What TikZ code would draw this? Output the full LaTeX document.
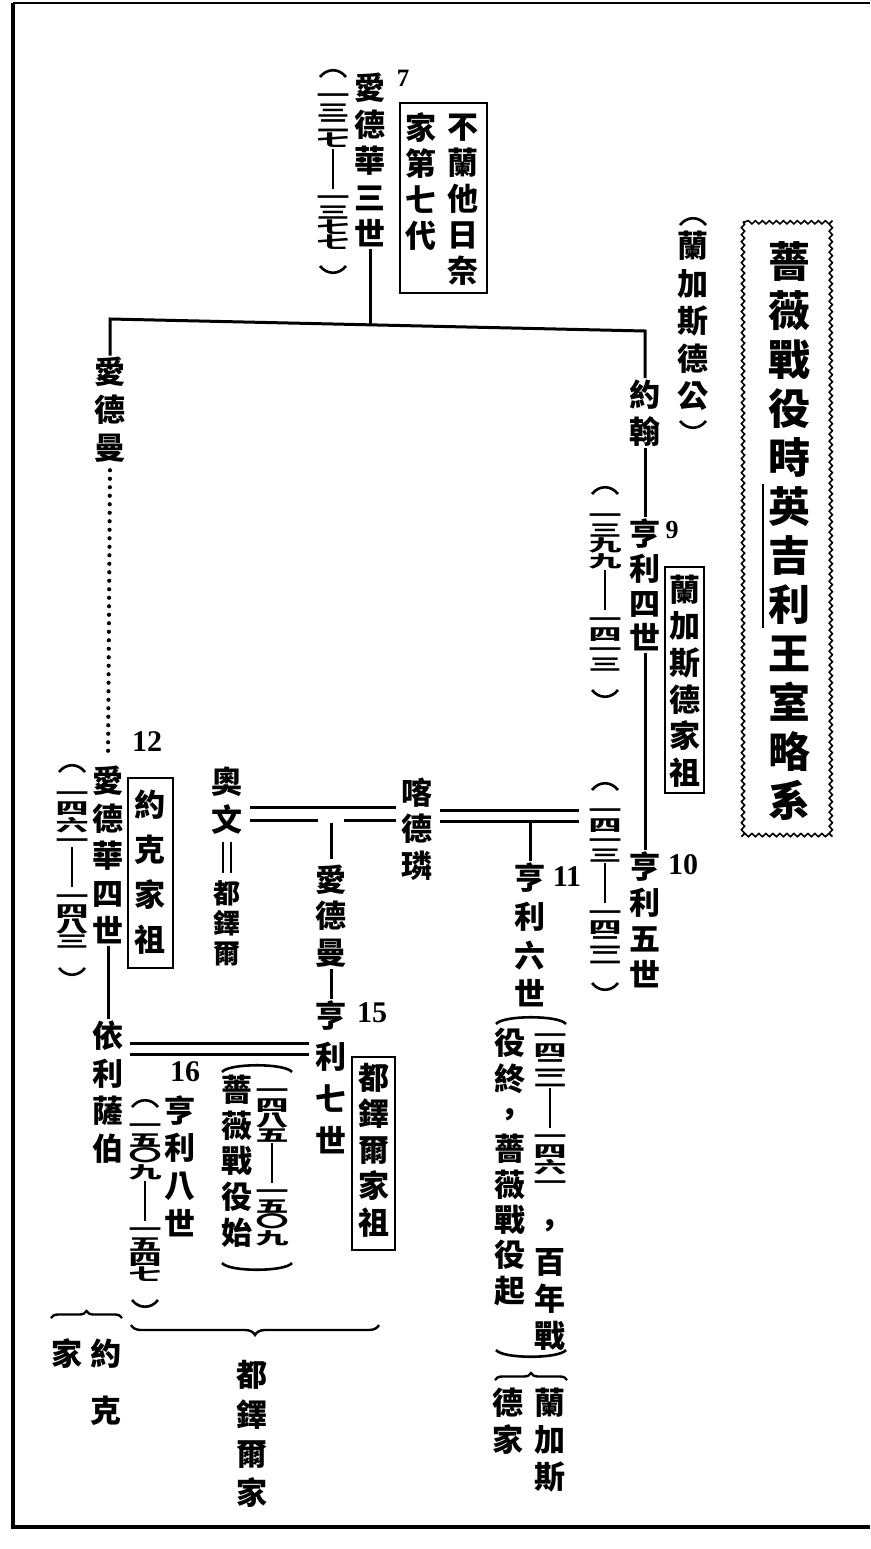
\documentclass[tikz,border=0pt]{standalone}
\usepackage{fontspec}
\usepackage{graphicx}
\newfontfamily\cjk{Noto Sans CJK TC}
\newfontfamily\numf{Liberation Serif}
\usetikzlibrary{calc,decorations.pathmorphing,decorations.pathreplacing}

\newcommand\dg[1]{\scalebox{1}[0.5]{#1}}
\newcommand\ydash{\rule{2.2pt}{40pt}}
\newcommand\vparen[4]{% x, top, bottom, half width
  \draw[parc] ({#1-#4},{#2+7}) .. controls ({#1-#4+7},{#2-2}) and ({#1+#4-7},{#2-2}) .. ({#1+#4},{#2+7});
  \draw[parc] ({#1-#4},{#3-7}) .. controls ({#1-#4+7},{#3+2}) and ({#1+#4-7},{#3+2}) .. ({#1+#4},{#3-7});}

\tikzset{
  rosetree/.style={x=1pt,y=-1pt,line width=3pt},
  vcol/.style={font=\cjk\bfseries\fontsize{31}{#1}\selectfont,align=center,inner sep=0pt},
  vcol/.default=37,
  tcol/.style={font=\cjk\bfseries\fontsize{27}{30}\selectfont,align=center,inner sep=0pt},
  vtitle/.style={font=\cjk\bfseries\fontsize{42}{49}\selectfont,align=center,inner sep=0pt},
  yrs/.style={font=\cjk\bfseries\fontsize{33}{15}\selectfont,align=center,inner sep=0pt},
  gen/.style={font=\numf\bfseries\fontsize{#1}{#1}\selectfont,inner sep=0pt},
  gen/.default=30,
  famebox/.style={line width=2.2pt},
  wed/.style={line width=3pt},
  parc/.style={line width=2.6pt},
  dotline/.style={line width=4.2pt,line cap=round,dash pattern=on 0pt off 8.5pt},
  brc/.style={line width=2.4pt,decorate,decoration={brace,amplitude=#1}},
}

\begin{document}
\begin{tikzpicture}[rosetree]
  \useasboundingbox (0,0) rectangle (870,1549);
  % frame
  \draw[line width=3.5pt] (13,3) -- (13,1527) -- (870,1527);
  \draw[line width=1.8pt] (13,3) -- (870,3);

  % title
  \draw[line width=1.6pt,decorate,decoration={snake,amplitude=1.6pt,segment length=7pt}] (743,222) rectangle (834,836);
  \node[vtitle] (title) at (789,531) {薔\\薇\\戰\\役\\時\\英\\吉\\利\\王\\室\\略\\系};
  \draw[line width=2pt] (763,484) -- (763,628);

  % Edward III
  \node[vcol=36.5] (ed3) at (370,160) {愛\\德\\華\\三\\世};
  \node[gen=25] (n7) at (403,78) {7};
  \node[yrs] (d7) at (333,172) {\dg{一}\\ \dg{三}\\ \dg{二}\\ \dg{七}\\ \ydash\\ \dg{一}\\ \dg{三}\\ \dg{七}\\ \dg{七}};
  \vparen{333}{70}{273}{13}
  \node[vcol=36] (b7r) at (463,200) {不\\蘭\\他\\日\\奈};
  \node[vcol=36] (b7l) at (421,182) {家\\第\\七\\代};
  \draw[famebox] (400,103) rectangle (487,293);

  \coordinate (jl) at (110,319);
  \coordinate (jr) at (645,331);
  \coordinate (jm) at (370,325);
  \draw (ed3.south) -- (jm);

  % York line
  \node[vcol=38] (edm1) at (110,410) {愛\\德\\曼};
  \node[vcol=37.5] (ed4) at (108,855) {愛\\德\\華\\四\\世};
  \node[gen] (n12) at (147,742) {12};
  \node[yrs] (d12) at (72,870) {\dg{一}\\ \dg{四}\\ \dg{六}\\ \dg{一}\\ \ydash\\ \dg{一}\\ \dg{四}\\ \dg{八}\\ \dg{三}};
  \vparen{72}{765}{975}{13}
  \node[vcol=45] (b12) at (150,872) {約\\克\\家\\祖};
  \draw[famebox] (128,778) rectangle (173,968);
  \node[vcol=37.7] (eliz) at (108,1092) {依\\利\\薩\\伯};

  % Lancaster line
  \node[vcol=37] (john) at (645,413) {約\\翰};
  \node[vcol=37.5] (duke) at (693,321) {蘭\\加\\斯\\德\\公};
  \vparen{693}{218}{428}{13}
  \node[vcol=34.7] (h4) at (645,585) {亨\\利\\四\\世};
  \node[gen=26] (n9) at (672,530) {9};
  \node[yrs] (d9) at (605,592) {\dg{一}\\ \dg{三}\\ \dg{九}\\ \dg{九}\\ \ydash\\ \dg{一}\\ \dg{四}\\ \dg{一}\\ \dg{三}};
  \vparen{605}{487}{697}{13}
  \node[vcol=36.6] (b9) at (685,681) {蘭\\加\\斯\\德\\家\\祖};
  \draw[famebox] (665,567) rectangle (704,793);
  \node[vcol=36] (h5) at (645,920) {亨\\利\\五\\世};
  \node[gen] (n10) at (683,865) {10};
  \node[yrs] (d10) at (605,886) {\dg{一}\\ \dg{四}\\ \dg{一}\\ \dg{三}\\ \ydash\\ \dg{一}\\ \dg{四}\\ \dg{二}\\ \dg{二}};
  \vparen{605}{783}{990}{13}

  \draw (edm1.north) -- (jl) -- (jr) -- (john.north);
  \draw[dotline,shorten <=6pt,shorten >=10pt] (edm1.south) -- (ed4.north);
  \draw (ed4.south) -- (eliz.north);
  \draw (john.south) -- (h4.north);
  \draw (h4.south) -- (h5.north);

  % Catherine, Owen Tudor, Henry VI
  \node[vcol=36.5] (cath) at (417,829) {喀\\德\\璘};
  \node[vcol=38] (owen) at (227,801) {奧\\文};
  \node[tcol] (tud) at (227,923) {都\\鐸\\爾};
  \draw[line width=2pt] ($(owen.south)+(-4,6)$) -- ($(tud.north)+(-4,-6)$);
  \draw[line width=2pt] ($(owen.south)+(4,6)$) -- ($(tud.north)+(4,-6)$);
  \node[vcol=36.5] (edm2) at (331,916) {愛\\德\\曼};
  \node[vcol=38.7] (h6) at (530,935) {亨\\利\\六\\世};
  \node[gen] (n11) at (567,877) {11};

  \coordinate (mA) at (0,807);
  \coordinate (mB) at (0,820);
  \coordinate (mA2) at (0,810);
  \coordinate (mB2) at (0,821);
  \draw[wed] ($(owen.east |- mA)+(6,0)$) -- ($(cath.west |- mA)+(-4,0)$);
  \draw[wed] ($(owen.east |- mB)+(6,0)$) -- ($(edm2.north |- mB)+(-13,0)$);
  \draw[wed] ($(edm2.north |- mB)+(13,0)$) -- ($(cath.west |- mB)+(-4,0)$);
  \draw ($(edm2.north |- mB)+(0,3)$) -- ($(edm2.north)+(0,-4)$);
  \draw[wed] ($(cath.east |- mA2)+(6,0)$) -- ($(d10.west |- mA2)+(-8,0)$);
  \draw[wed] ($(cath.east |- mB2)+(6,0)$) -- ($(d10.west |- mB2)+(-8,0)$);
  \draw (h6.north |- mB2) -- (h6.north);

  \vparen{531}{1017}{1357}{35}
  \node[vcol=35.3] (r11l) at (510,1167) {役\\終\\，\\薔\\薇\\戰\\役\\起};
  \node[yrs,anchor=north] (d11) at (550,1032) {\dg{一}\\ \dg{四}\\ \dg{二}\\ \dg{二}\\ \ydash\\ \dg{一}\\ \dg{四}\\ \dg{六}\\ \dg{一}};
  \node[vcol] (c11) at (550,1228) {，};
  \node[vcol=37] (r11r) at (550,1299) {百\\年\\戰};
  \draw[brc=7pt] (495,1380) -- (567,1380);
  \node[vcol=37] (lanr) at (550,1440) {蘭\\加\\斯};
  \node[vcol=37] (lanl) at (508,1421) {德\\家};

  % Tudor
  \node[vcol=41.7] (h7) at (331,1077) {亨\\利\\七\\世};
  \node[gen] (n15) at (372,1013) {15};
  \draw (edm2.south) -- (h7.north);
  \node[vcol=36.25] (b15) at (374,1150) {都\\鐸\\爾\\家\\祖};
  \draw[famebox] (352,1057) rectangle (395,1250);

  \coordinate (mC) at (0,1043);
  \coordinate (mD) at (0,1054);
  \draw[wed] ($(eliz.east |- mC)+(5,0)$) -- ($(h7.west |- mC)+(-5,0)$);
  \draw[wed] ($(eliz.east |- mD)+(5,0)$) -- ($(h7.west |- mD)+(-5,0)$);

  \vparen{257}{1065}{1270}{35}
  \node[yrs] (d15) at (272,1167) {\dg{一}\\ \dg{四}\\ \dg{八}\\ \dg{五}\\ \ydash\\ \dg{一}\\ \dg{五}\\ \dg{〇}\\ \dg{九}};
  \node[vcol=35.75] (r15) at (237,1161) {薔\\薇\\戰\\役\\始};

  \node[vcol=37.7] (h8) at (180,1166) {亨\\利\\八\\世};
  \node[gen] (n16) at (185,1072) {16};
  \node[yrs] (d16) at (145,1203) {\dg{一}\\ \dg{五}\\ \dg{〇}\\ \dg{九}\\ \ydash\\ \dg{一}\\ \dg{五}\\ \dg{四}\\ \dg{七}};
  \vparen{145}{1100}{1307}{13}

  % houses
  \draw[brc=7pt] (51,1318) -- (122,1318);
  \node[vcol=57] (yorkr) at (106,1382) {約\\克};
  \node[vcol] (yorkl) at (67,1354) {家};
  \draw[brc=10pt] (379,1325) -- (131,1325);
  \node[vcol=39.3] (tudh) at (252,1434) {都\\鐸\\爾\\家};
\end{tikzpicture}
\end{document}
